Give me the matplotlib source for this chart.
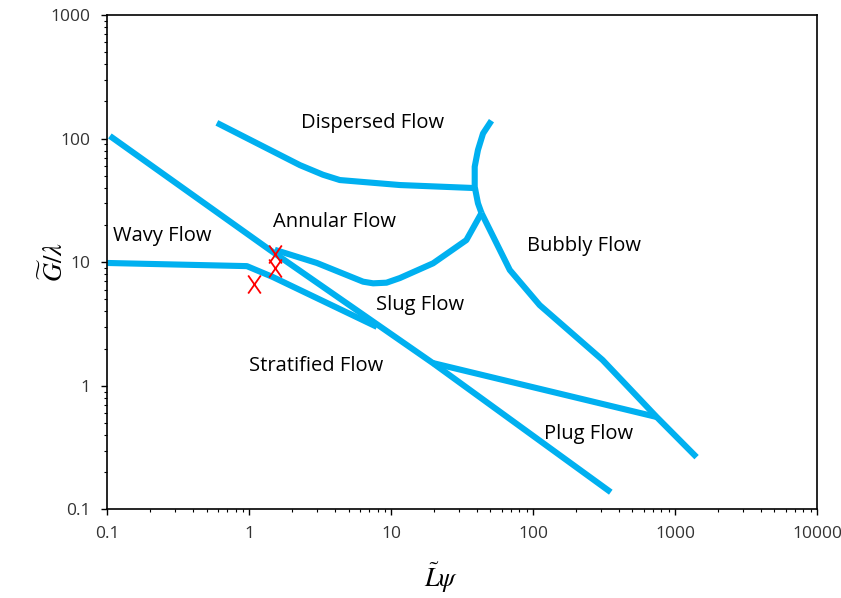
import matplotlib
matplotlib.use("Agg")
import matplotlib.pyplot as plt
from matplotlib.path import Path
from matplotlib.ticker import NullFormatter

# Mapa de patrones de flujo (tipo Baker), ejes log-log
plt.rcParams['font.family'] = ['Open Sans', 'DejaVu Sans']
plt.rcParams['mathtext.fontset'] = 'stix'

# Fronteras entre regímenes
line_a_x = [0.104, 1.39, 19.6, 352]
line_a_y = [105, 12.6, 1.53, 0.138]

wavy_x = [0.1, 0.96, 1.46, 7.92]
wavy_y = [9.86, 9.3, 7.6, 3.0]

annular_x = [1.51, 2.99, 6.33, 7.45, 9.25, 11.5, 19.7, 33.8, 43.2]
annular_y = [12.6, 9.86, 6.96, 6.75, 6.83, 7.45, 9.8, 15.1, 25]

dispersed_x = [0.59, 2.27, 3.3, 4.34, 11.5, 38.7]
dispersed_y = [134, 61, 51, 46.2, 42.1, 39.8]

bubbly_top_x = [50.8, 44.3, 40.8, 38.7, 38.7, 40.8, 43.2]
bubbly_top_y = [139.6, 110, 80.9, 59.2, 40.8, 30, 25]

bubbly_low_x = [43.2, 68.4, 111, 308, 741, 1416]
bubbly_low_y = [25, 8.65, 4.5, 1.62, 0.56, 0.265]

plug_x = [19.6, 99, 741]
plug_y = [1.53, 0.977, 0.56]

# Puntos experimentales (cruces rojas)
exp_x = [1.51, 1.51, 1.08]
exp_y = [11.6, 8.98, 6.66]

# Etiquetas de cada región
region_names = ['Dispersed Flow', 'Annular Flow', 'Wavy Flow', 'Bubbly Flow',
                'Slug Flow', 'Stratified Flow', 'Plug Flow']
region_x = [7.4, 4.0, 0.242, 227, 15.9, 2.94, 246]
region_y = [134, 21.1, 16.3, 13.5, 4.5, 1.45, 0.407]

x_ticks = [0.1, 1, 10, 100, 1000, 10000]
x_labels = ['0.1', '1', '10', '100', '1000', '10000']
y_ticks = [0.1, 1, 10, 100, 1000]
y_labels = ['0.1', '1', '10', '100', '1000']

blue = '#00B0F0'

fig = plt.figure(figsize=(8.41, 5.98), dpi=100)
ax = fig.add_axes([0.1278, 0.148, 0.8437, 0.827])
ax.set_xscale('log')
ax.set_yscale('log')
ax.set_xlim(0.1, 10000)
ax.set_ylim(0.1, 1000)

for xs, ys in [(line_a_x, line_a_y), (wavy_x, wavy_y), (annular_x, annular_y),
               (dispersed_x, dispersed_y), (bubbly_top_x, bubbly_top_y),
               (bubbly_low_x, bubbly_low_y), (plug_x, plug_y)]:
    ax.plot(xs, ys, color=blue, lw=4.4, solid_capstyle='butt', solid_joinstyle='round')

x_mark = Path([(-0.7, -1), (0.7, 1), (-0.7, 1), (0.7, -1)],
              [Path.MOVETO, Path.LINETO, Path.MOVETO, Path.LINETO])
ax.plot(exp_x, exp_y, ls='none', marker=x_mark, ms=13, mew=1.3, color='red')

for name, tx, ty in zip(region_names, region_x, region_y):
    ax.text(tx, ty, name, fontsize=14.5, ha='center', va='center', color='black')

ax.set_xticks(x_ticks, x_labels)
ax.set_yticks(y_ticks, y_labels)
ax.xaxis.set_minor_formatter(NullFormatter())
ax.yaxis.set_minor_formatter(NullFormatter())
ax.tick_params(which='both', direction='out', colors='black', labelcolor='#333333')
ax.tick_params(which='major', length=4, width=1, labelsize=12.5, pad=8)
ax.tick_params(which='minor', length=2.4, width=0.8)
for sp in ax.spines.values():
    sp.set_linewidth(1.2)

ax.set_xlabel(r'$\tilde{L}\psi$', fontsize=19, va='center')
ax.xaxis.set_label_coords(0.47, -0.1385)
ax.set_ylabel(r'$\widetilde{G}/\lambda$', fontsize=19, va='center')
ax.yaxis.set_label_coords(-0.074, 0.5)

fig.savefig('out.png', dpi=100)
